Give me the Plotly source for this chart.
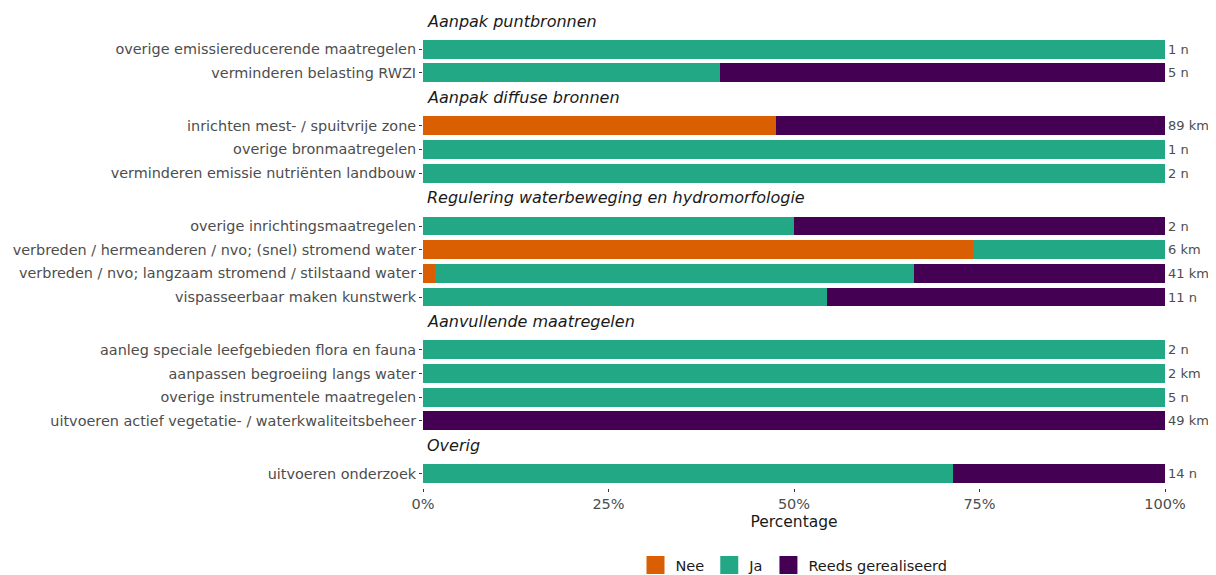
import plotly.graph_objects as go
from plotly.subplots import make_subplots

# Data (percentages)
groepen = ["Aanpak puntbronnen", "Aanpak diffuse bronnen",
           "Regulering waterbeweging en hydromorfologie",
           "Aanvullende maatregelen", "Overig"]

maatregel = [
    "overige emissiereducerende maatregelen", "verminderen belasting RWZI",
    "inrichten mest- / spuitvrije zone", "overige bronmaatregelen",
    "verminderen emissie nutriënten landbouw",
    "overige inrichtingsmaatregelen", "verbreden / hermeanderen / nvo; (snel) stromend water",
    "verbreden / nvo; langzaam stromend / stilstaand water", "vispasseerbaar maken kunstwerk",
    "aanleg speciale leefgebieden flora en fauna", "aanpassen begroeiing langs water",
    "overige instrumentele maatregelen", "uitvoeren actief vegetatie- / waterkwaliteitsbeheer",
    "uitvoeren onderzoek",
]
groep = [0, 0, 1, 1, 1, 2, 2, 2, 2, 3, 3, 3, 3, 4]
nee = [0, 0, 47.6, 0, 0, 0, 74.3, 1.6, 0, 0, 0, 0, 0, 0]
ja = [100, 40, 0, 100, 100, 50, 25.7, 64.6, 54.5, 100, 100, 100, 0, 71.4]
reeds = [0, 60, 52.4, 0, 0, 50, 0, 33.8, 45.5, 0, 0, 0, 100, 28.6]
omvang = ["1 n", "5 n", "89 km", "1 n", "2 n", "2 n", "6 km", "41 km", "11 n",
          "2 n", "2 km", "5 n", "49 km", "14 n"]

series = [("Nee", nee, "#D95F02"), ("Ja", ja, "#22A884"), ("Reeds gerealiseerd", reeds, "#440154")]

fig = make_subplots(rows=len(groepen), cols=1, shared_xaxes=True)

# layout geometry (pixels); page body has an 8px margin
W, H = 1216, 575
off = 8
top, bottom = 35, 488
gap = 24.5
plot_h = bottom - top
units = sum(groep.count(gi) + 0.2 for gi in range(len(groepen)))
pitch = (plot_h - gap * (len(groepen) - 1)) / units

cur = top
domains = []
for gi in range(len(groepen)):
    n = groep.count(gi)
    h = (n + 0.2) * pitch
    y0, y1 = cur, cur + h
    d0 = max(0.0, 1 - (y1 - top) / plot_h)
    d1 = min(1.0, 1 - (y0 - top) / plot_h)
    domains.append((d0, d1))
    cur = y1 + gap

for gi, g in enumerate(groepen):
    idx = [i for i, gg in enumerate(groep) if gg == gi]
    cats = [maatregel[i] for i in idx]
    for name, vals, col in series:
        fig.add_trace(go.Bar(
            y=cats, x=[vals[i] for i in idx], name=name, orientation="h",
            marker=dict(color=col, line=dict(width=0)), width=0.8,
            legendgroup=name, showlegend=False,
            hovertemplate="%{y}: %{x:.1f}%<extra>" + name + "</extra>",
        ), row=gi + 1, col=1)
    n = len(cats)
    ykey = "yaxis" if gi == 0 else f"yaxis{gi + 1}"
    fig.layout[ykey].update(
        domain=list(domains[gi]), type="category", categoryorder="array",
        categoryarray=cats, range=[n - 0.4, -0.6], automargin=False,
        ticks="outside", ticklen=3, tickcolor="#333333", tickwidth=1,
        tickfont=dict(size=14.4, color="#4d4d4d"), showgrid=False,
        zeroline=False, showline=False,
    )
    yref = "y" if gi == 0 else f"y{gi + 1}"
    fig.add_annotation(
        text=f"<i>{g}</i>", xref="paper", x=0, xanchor="left", xshift=2,
        yref=f"{yref} domain", y=1, yanchor="middle", yshift=14, showarrow=False,
        font=dict(size=16, color="#1a1a1a"),
    )
    for i in idx:
        fig.add_annotation(
            text=omvang[i], xref="paper", x=1, xanchor="left", xshift=1,
            yref=yref, y=maatregel[i], showarrow=False,
            font=dict(size=13, color="#4d4d4d"),
        )

# legend-only entries with larger square keys
for name, vals, col in series:
    fig.add_trace(go.Scatter(
        x=[None], y=[None], mode="markers", name=name, legendgroup=name,
        marker=dict(symbol="square", size=16, color=col, line=dict(color=col, width=2)),
        showlegend=True, hoverinfo="skip",
    ), row=len(groepen), col=1)

for gi in range(len(groepen)):
    xkey = "xaxis" if gi == 0 else f"xaxis{gi + 1}"
    fig.layout[xkey].update(range=[0, 100], showgrid=False, zeroline=False,
                            showline=False, fixedrange=True, automargin=False)

last = f"xaxis{len(groepen)}"
fig.layout[last].update(
    tickvals=[0, 25, 50, 75, 100], ticktext=["0%", "25%", "50%", "75%", "100%"],
    ticks="outside", ticklen=3, tickcolor="#333333",
    tickfont=dict(size=14.5, color="#4d4d4d"),
    title=dict(text="Percentage", font=dict(size=15.5, color="#1a1a1a"), standoff=4),
)

fig.update_layout(
    barmode="stack", bargap=0.2,
    width=W - off, height=H - off,
    margin=dict(l=423 - off, r=W - 1165, t=top - off, b=H - bottom, autoexpand=False),
    plot_bgcolor="white", paper_bgcolor="white",
    font=dict(family="DejaVu Sans", color="#4d4d4d"),
    legend=dict(orientation="h", x=0.5, xanchor="center", y=-(565 - bottom) / plot_h,
                yanchor="middle", font=dict(size=14.5, color="#1a1a1a"),
                traceorder="normal"),
)

fig.write_html("out.html")
